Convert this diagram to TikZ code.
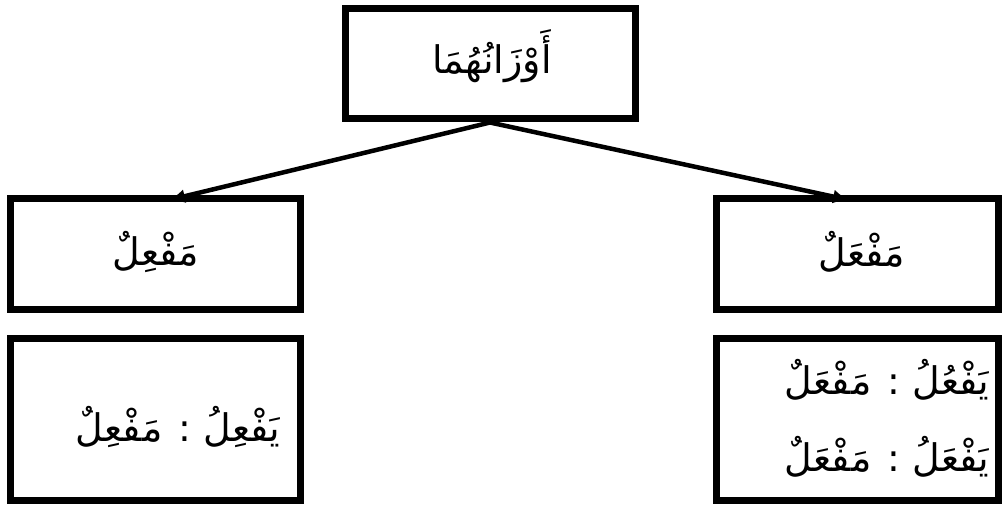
\documentclass[tikz,border=0pt]{standalone}
\usepackage{fontspec}
\newfontfamily\arabicfont[Script=Arabic]{DejaVu Sans}
\TeXXeTstate=1
\usetikzlibrary{arrows.meta}
\begin{document}
\begin{tikzpicture}[x=1pt,y=-1pt,
  box/.style={draw=black,line width=7pt,minimum width=#1,inner sep=0pt},
  lbl/.style={font=\arabicfont\fontsize{38}{50}\selectfont,inner sep=0pt,align=center},
  conn/.style={line width=4.5pt,-{Latex[length=16pt,width=14pt]}}]
\useasboundingbox[fill=white] (0,0) rectangle (1002,508);
\node[box=290pt,minimum height=110pt] (top) at (490,64) {};
\node[box=290pt,minimum height=110pt] (ml) at (155,254) {};
\node[box=282pt,minimum height=110pt] (mr) at (857,254) {};
\node[box=290pt,minimum height=162pt] (bl) at (155,419) {};
\node[box=282pt,minimum height=162pt] (br) at (857,419) {};
\node[lbl] (ttop) at (492,56) {\beginR أَوْزَانُهُمَا\endR};
\node[lbl] (tml) at (156,252) {\beginR مَفْعِلٌ\endR};
\node[lbl] (tmr) at (862,252) {\beginR مَفْعَلٌ\endR};
\node[lbl] (tbl) at (178,427) {\beginR يَفْعِلُ : مَفْعِلٌ\endR};
\node[lbl] (tbr1) at (887,380) {\beginR يَفْعُلُ : مَفْعَلٌ\endR};
\node[lbl] (tbr2) at (887,457) {\beginR يَفْعَلُ : مَفْعَلٌ\endR};
\coordinate (ltip) at (169,200);
\coordinate (rtip) at (849,200);
\draw[conn] (top.south) -- (ltip);
\draw[conn] (top.south) -- (rtip);
\end{tikzpicture}
\end{document}
